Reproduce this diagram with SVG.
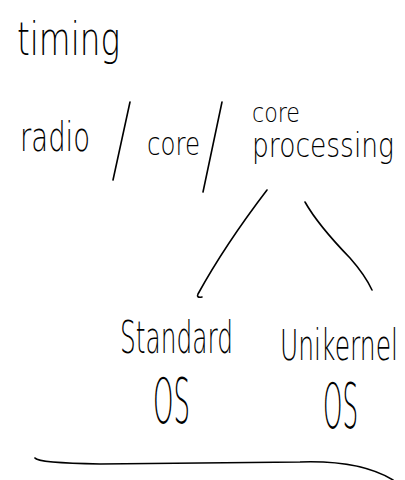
<svg xmlns="http://www.w3.org/2000/svg" width="405" height="480" viewBox="0 0 405 480">
<style>
text{font-family:"DejaVu Sans","Liberation Sans",sans-serif;font-weight:200;fill:#000}
.ink{fill:none;stroke:#000;stroke-width:1.6;stroke-linecap:round;stroke-linejoin:round}
</style>
<rect width="405" height="480" fill="#fff"/>
<g id="timing"><text x="17" y="55" font-size="46" textLength="103" lengthAdjust="spacingAndGlyphs">timing</text></g>
<g id="radio"><text x="20" y="151" font-size="40" textLength="70" lengthAdjust="spacingAndGlyphs">radio</text></g>
<g id="core"><text x="147" y="155" font-size="32" textLength="53" lengthAdjust="spacingAndGlyphs">core</text></g>
<g id="core-processing">
<text x="252" y="122" font-size="26" textLength="48" lengthAdjust="spacingAndGlyphs">core</text>
<text x="252" y="157" font-size="34" textLength="142" lengthAdjust="spacingAndGlyphs">processing</text>
</g>
<g id="standard-os">
<text x="120" y="353" font-size="44" textLength="113" lengthAdjust="spacingAndGlyphs">Standard</text>
<text x="153" y="423" font-size="62" textLength="37" lengthAdjust="spacingAndGlyphs">OS</text>
</g>
<g id="unikernel-os">
<text x="280" y="360" font-size="42" textLength="118" lengthAdjust="spacingAndGlyphs">Unikernel</text>
<text x="323" y="428" font-size="62" textLength="35" lengthAdjust="spacingAndGlyphs">OS</text>
</g>
<g id="connectors">
<path class="ink" d="M130,102 L113,180"/>
<path class="ink" d="M222,102 L203,192"/>
<path class="ink" d="M267,190 Q225,245 198,294 Q196,298 202,297"/>
<path class="ink" d="M305,202 Q318,225 350,258 Q365,275 372,290"/>
<path class="ink" d="M35,458 Q38,463 100,464 L300,462 Q360,460 393,480"/>
</g>
</svg>
